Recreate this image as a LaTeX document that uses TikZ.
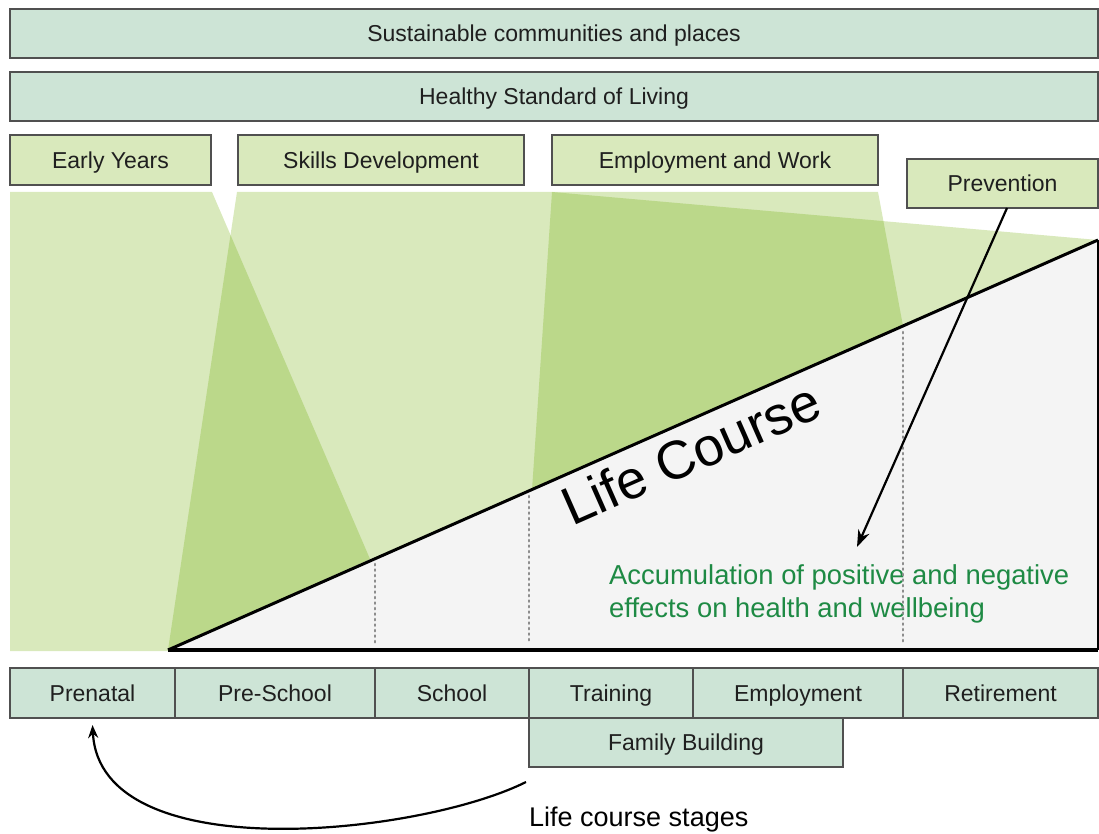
\documentclass[tikz,border=0pt]{standalone}
\usepackage{fontspec}
\setmainfont{Liberation Sans}
\usetikzlibrary{arrows.meta}
\definecolor{barcol}{RGB}{205,228,214}
\definecolor{lgreen}{RGB}{217,233,188}
\definecolor{dgreen}{RGB}{187,216,138}
\definecolor{trigray}{RGB}{244,244,244}
\definecolor{edgecol}{RGB}{80,80,80}
\definecolor{txtgreen}{RGB}{30,138,68}
\definecolor{dotcol}{RGB}{140,140,140}
\tikzset{
  boxbase/.style={draw=edgecol, line width=1.5pt, inner sep=0pt, outer sep=0pt,
    font=\fontsize{23}{27}\selectfont, text=black!88, text height=18pt, text depth=1.5pt},
  barbox/.style={boxbase, fill=barcol},
  themebox/.style={boxbase, fill=lgreen},
  stagebox/.style={boxbase, fill=barcol, minimum height=50pt},
  dotline/.style={draw=dotcol, line width=2.6pt, line cap=round, dash pattern=on 1.2pt off 4.3pt},
  pointer/.style={line width=2.2pt, -{Stealth[length=17pt,width=12pt]}},
}
\begin{document}
\begin{tikzpicture}[x=1pt,y=-1pt]
\useasboundingbox (0,0) rectangle (1099,834);

% top bars
\node[barbox, minimum width=1088pt, minimum height=49pt] (sus) at (554,33.5) {Sustainable communities and places};
\node[barbox, minimum width=1088pt, minimum height=49pt] (hsl) at (554,96.5) {Healthy Standard of Living};

% theme boxes
\node[themebox, minimum width=201pt, minimum height=50pt] (ey) at (110.5,160) {Early Years};
\node[themebox, minimum width=286pt, minimum height=50pt] (sd) at (381,160) {Skills Development};
\node[themebox, minimum width=326pt, minimum height=50pt] (ew) at (715,160) {Employment and Work};
\node[themebox, minimum width=191pt, minimum height=49pt] (pv) at (1002.5,183.5) {Prevention};

% green areas
\fill[lgreen] (10,192) -- (212,192) -- (370,559) -- (168,651) -- (10,651) -- cycle;
\fill[lgreen] (237,192) -- (552,192) -- (1098,240) -- (168,650) -- cycle;
\fill[lgreen] (552,192) -- (878,192) -- (903,326) -- (532,490) -- cycle;
\fill[dgreen] (230.5,235) -- (370,559) -- (168,650) -- cycle;
\fill[dgreen] (552,192) -- (883.4,221.1) -- (903,326) -- (532,490) -- cycle;

% life course triangle
\fill[trigray] (168,650) -- (1098,240) -- (1098,650) -- cycle;

% text inside
\node[anchor=west, align=left, text=txtgreen, inner sep=0pt,
  font=\fontsize{27.4}{33}\selectfont] (acc) at (609,593.5)
  {Accumulation of positive and negative\\effects on health and wellbeing};

\draw[dotline] (375,564) -- (375,643);
\draw[dotline] (529,496) -- (529,643);
\draw[dotline] (903,332) -- (903,643);

\draw[line width=3pt] (168,650) -- (1098,240);
\draw[line width=2.2pt] (1098,240) -- (1098,650);
\draw[line width=3.4pt] (168,650) -- (1098,650);

\node[rotate=23.8, anchor=base west, inner sep=0pt,
  font=\fontsize{54}{62}\selectfont] (lc) at (572,527) {Life Course};

% prevention arrow
\coordinate (pa) at (1007,208);
\coordinate (pt) at (857,547);
\draw[pointer] (pa) -- (pt);

% stages
\node[stagebox, minimum width=165pt] (pn) at (92.5,693) {Prenatal};
\node[stagebox, minimum width=200pt] (ps) at (275,693) {Pre-School};
\node[stagebox, minimum width=154pt] (sc) at (452,693) {School};
\node[stagebox, minimum width=164pt] (tr) at (611,693) {Training};
\node[stagebox, minimum width=210pt] (em) at (798,693) {Employment};
\node[stagebox, minimum width=195pt] (rt) at (1000.5,693) {Retirement};
\node[stagebox, minimum width=314pt, minimum height=49pt] (fb) at (686,742.5) {Family Building};

\node[anchor=west, inner sep=0pt, font=\fontsize{27}{32}\selectfont] (lcs) at (529,820) {Life course stages};

\coordinate (cs) at (526,782);
\coordinate (pnt) at ([yshift=-7pt]pn.south);
\draw[line width=2.2pt, -{Stealth[length=13pt,width=10pt]}] (cs) .. controls (420,835) and (100,870) .. (pnt);
\end{tikzpicture}
\end{document}
